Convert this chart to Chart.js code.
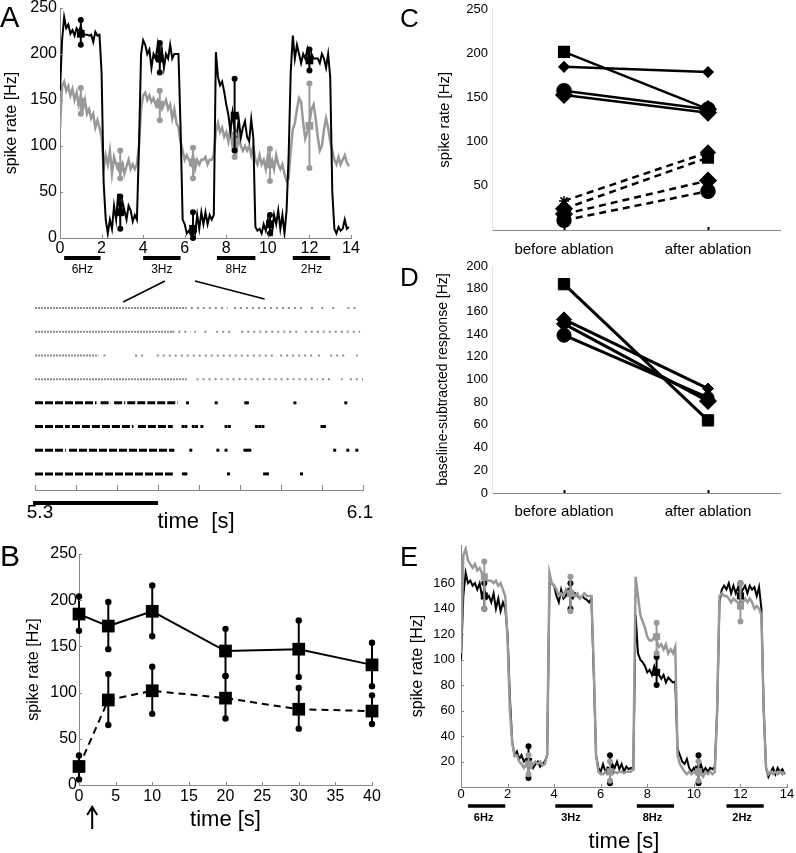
<!DOCTYPE html>
<html>
<head>
<meta charset="utf-8">
<script src="https://cdn.jsdelivr.net/npm/chart.js@4.4.1/dist/chart.umd.min.js"></script>
<style>
  body { margin: 0; background: #fff; }
  #wrap { position: relative; width: 796px; height: 853px; overflow: hidden; font-family: "Liberation Sans", Arial, sans-serif; }
  canvas { position: absolute; }
  .letter { position: absolute; line-height: 1; color: #000; }
</style>
</head>
<body>
<div id="wrap">
  <canvas id="cA" width="362" height="290" style="left:0px;top:0px"></canvas>
  <canvas id="cR" width="380" height="262" style="left:0px;top:276px"></canvas>
  <canvas id="cB" width="385" height="308" style="left:0px;top:545px"></canvas>
  <canvas id="cC" width="396" height="262" style="left:400px;top:0px"></canvas>
  <canvas id="cD" width="396" height="280" style="left:400px;top:250px"></canvas>
  <canvas id="cE" width="396" height="313" style="left:400px;top:540px"></canvas>
  <div class="letter" style="left:0px;top:3px;font-size:29px">A</div>
  <div class="letter" style="left:0px;top:541px;font-size:30px">B</div>
  <div class="letter" style="left:400px;top:5px;font-size:26px">C</div>
  <div class="letter" style="left:400px;top:264px;font-size:26px">D</div>
  <div class="letter" style="left:400px;top:544px;font-size:27px">E</div>
</div>
<script>
// ---- data ----
const timeBins = [
  0.0, 0.1, 0.2, 0.3, 0.4, 0.5, 0.6, 0.7, 0.8, 0.9,
  1.0, 1.1, 1.2, 1.3, 1.4, 1.5, 1.6, 1.7, 1.8, 1.9,
  2.0, 2.1, 2.2, 2.3, 2.4, 2.5, 2.6, 2.7, 2.8, 2.9,
  3.0, 3.1, 3.2, 3.3, 3.4, 3.5, 3.6, 3.7, 3.8, 3.9,
  4.0, 4.1, 4.2, 4.3, 4.4, 4.5, 4.6, 4.7, 4.8, 4.9,
  5.0, 5.1, 5.2, 5.3, 5.4, 5.5, 5.6, 5.7, 5.8, 5.9,
  6.0, 6.1, 6.2, 6.3, 6.4, 6.5, 6.6, 6.7, 6.8, 6.9,
  7.0, 7.1, 7.2, 7.3, 7.4, 7.5, 7.6, 7.7, 7.8, 7.9,
  8.0, 8.1, 8.2, 8.3, 8.4, 8.5, 8.6, 8.7, 8.8, 8.9,
  9.0, 9.1, 9.2, 9.3, 9.4, 9.5, 9.6, 9.7, 9.8, 9.9,
  10.0, 10.1, 10.2, 10.3, 10.4, 10.5, 10.6, 10.7, 10.8, 10.9,
  11.0, 11.1, 11.2, 11.3, 11.4, 11.5, 11.6, 11.7, 11.8, 11.9,
  12.0, 12.1, 12.2, 12.3, 12.4, 12.5, 12.6, 12.7, 12.8, 12.9,
  13.0, 13.1, 13.2, 13.3, 13.4, 13.5, 13.6, 13.7, 13.8, 13.9
];

// panel A traces
const blackA = [
  160, 215, 240, 228, 232, 222, 226, 220, 228, 224,
  230, 222, 221, 221, 220, 221, 213, 224, 220, 221,
  180, 60, 20, 5, 20, 10, 35, 20, 48, 25,
  40, 30, 20, 35, 30, 18, 25, 20, 100, 200,
  215, 210, 200, 205, 185, 200, 195, 210, 190, 205,
  185, 200, 195, 210, 195, 200, 200, 200, 120, 20,
  15, 5, 8, 3, 12, 5, 25, 10, 28, 15,
  28, 15, 25, 20, 25, 202, 175, 166, 170, 159,
  145, 134, 116, 136, 118, 111, 129, 109, 120, 127,
  110, 105, 129, 109, 12, 8, 10, 5, 15, 8,
  20, 10, 5, 25, 15, 30, 10, 25, 5, 30,
  90, 180, 220, 195, 210, 200, 190, 200, 195, 205,
  190, 200, 195, 195, 195, 190, 200, 195, 185, 200,
  175, 50, 10, 5, 12, 8, 10, 20, 10, 12
];
const grayA = [
  120, 165, 170, 160, 165, 155, 162, 150, 158, 145,
  155, 140, 150, 135, 140, 130, 135, 120, 128, 120,
  110, 75, 90, 80, 95, 70, 88, 80, 75, 70,
  80, 70, 78, 85, 75, 80, 75, 80, 100, 140,
  155, 158, 150, 155, 148, 152, 145, 150, 145, 140,
  145, 150, 140, 145, 130, 140, 125, 120, 105, 95,
  85, 90, 85, 80, 90, 75, 85, 80, 85, 85,
  88, 80, 85, 85, 90, 115, 125, 115, 120, 110,
  115, 105, 120, 100, 110, 95, 110, 100, 95, 100,
  95, 100, 90, 100, 85, 80, 90, 80, 85, 75,
  90, 80, 85, 75, 90, 80, 75, 80, 70, 62,
  65, 95, 118, 125, 140, 152, 148, 125, 108, 115,
  125, 140, 145, 130, 110, 95, 100, 118, 130, 120,
  105, 95, 85, 80, 88, 80, 85, 90, 82, 78
];
const errTimesA = [1.0, 2.9, 4.8, 6.4, 8.4, 10.1, 12.0];
const blackMeanA = [222, 28, 195, 10, 133, 15, 193];
const blackLoA = [210, 10, 180, 0, 95, 5, 182];
const blackHiA = [237, 45, 212, 28, 173, 25, 205];
const grayMeanA = [148, 78, 145, 82, 105, 80, 122];
const grayLoA = [135, 65, 128, 65, 88, 62, 76];
const grayHiA = [163, 95, 160, 98, 113, 97, 168];
const stimLabels = ['6Hz', '3Hz', '8Hz', '2Hz'];
const stimStartA = [0.2, 4.0, 7.55, 11.2];
const stimEndA = [1.95, 5.8, 9.4, 13.0];

// raster (zoom of 5.3 - 6.1 s), rows 1-4 gray, 5-8 black
const rasterRows = [1, 2, 3, 4, 5, 6, 7, 8];
const grayDense = [
  [[5.30, 5.67]],
  [[5.30, 5.635]],
  [[5.30, 5.455]],
  [[5.30, 5.67]]
];
const graySparse = [
  [[5.68, 5.77], [5.785, 5.96], [5.973, 5.978], [5.998, 6.003], [6.025, 6.037], [6.062, 6.086]],
  [[5.635, 5.68], [5.688, 5.692], [5.713, 5.724], [5.742, 5.777], [5.803, 5.94], [5.958, 6.093]],
  [[5.467, 5.478], [5.544, 5.572], [5.597, 5.88], [5.898, 5.98], [5.99, 6.0], [6.02, 6.063], [6.083, 6.087]],
  [[5.694, 5.99], [6.0, 6.02], [6.046, 6.05], [6.068, 6.1]]
];
const blackBursts = [
  [[5.30, 5.45], [5.46, 5.485], [5.493, 5.52], [5.525, 5.648]],
  [[5.30, 5.385], [5.39, 5.54], [5.551, 5.636]],
  [[5.30, 5.375], [5.383, 5.64]],
  [[5.30, 5.636]]
];
const blackSpikes = [
  [5.672, 5.742, 5.814, 5.818, 5.934, 6.058],
  [5.661, 5.668, 5.686, 5.694, 5.707, 5.766, 5.774, 5.84, 5.848, 5.856, 6.0, 6.006],
  [5.68, 5.746, 5.766, 5.812, 5.818, 5.824, 6.031, 6.063, 6.085],
  [5.662, 5.668, 5.772, 5.86, 5.867, 5.95]
];
const rasterRange = [5.3, 6.1];
const scaleBar = [5.3, 5.6];
const zoomFromA = [5.05, 6.49];
const zoomToRaster = [5.515, 5.86];

// panel B
const timeB = [0, 4, 10, 20, 30, 40];
const stimRateB = [185, 172, 188, 145, 147, 130];
const stimLoB = [167, 147, 161, 118, 117, 107];
const stimHiB = [204, 198, 216, 169, 178, 154];
const baseRateB = [20, 92, 102, 94, 82, 80];
const baseLoB = [6, 65, 77, 72, 61, 66];
const baseHiB = [32, 120, 128, 118, 105, 97];
const arrowAt = [1.8];

// panels C and D
const catLabels = ['before ablation', 'after ablation'];
const cBefore = [202, 185, 158, 153, 33, 24, 18, 11];
const cAfter = [137, 179, 137, 133, 88, 82, 56, 44];
const dBefore = [184, 153, 149, 139];
const dAfter = [64, 92, 81, 84];

// panel E traces
const blackE = [
  100, 150, 168, 160, 162, 158, 160, 155, 160, 150,
  155, 148, 150, 145, 152, 140, 148, 138, 145, 140,
  120, 70, 35, 25, 28, 22, 25, 20, 22, 18,
  20, 15, 18, 20, 16, 18, 20, 25, 160, 160,
  158, 150, 145, 155, 148, 150, 155, 150, 148, 152,
  150, 148, 150, 148, 147, 145, 148, 90, 25, 15,
  12, 18, 12, 15, 12, 18, 15, 20, 14, 18,
  12, 16, 14, 15, 14, 135, 105, 100, 98, 95,
  90, 92, 88, 95, 90, 88, 85, 88, 82, 86,
  84, 82, 83, 30, 25, 20, 18, 22, 15, 12,
  15, 12, 15, 18, 12, 15, 12, 15, 14, 16,
  60, 145, 155, 158, 155, 160, 152, 158, 152, 157,
  150, 155, 158, 152, 158, 155, 157, 150, 157, 140,
  60, 15, 8, 12, 15, 10, 15, 12, 14, 10
];
const grayE = [
  105, 182, 187, 178, 175, 172, 175, 170, 172, 168,
  165, 162, 162, 162, 160, 162, 158, 160, 155, 150,
  115, 60, 35, 25, 25, 20, 18, 15, 18, 16,
  15, 18, 20, 18, 20, 17, 18, 25, 168, 160,
  158, 155, 150, 152, 150, 155, 152, 150, 152, 150,
  152, 148, 150, 152, 150, 150, 150, 95, 25, 12,
  10, 10, 12, 10, 12, 10, 12, 11, 12, 12,
  11, 12, 12, 12, 15, 165, 150, 135, 130, 125,
  118, 115, 115, 118, 115, 110, 112, 108, 112, 105,
  108, 105, 110, 25, 18, 15, 12, 10, 12, 10,
  12, 10, 12, 10, 8, 12, 10, 12, 10, 12,
  60, 150, 152, 150, 150, 148, 145, 148, 146, 145,
  142, 145, 148, 145, 148, 145, 140, 142, 140, 135,
  60, 15, 10, 12, 10, 12, 10, 12, 10, 12
];
const errTimesE = [1.0, 2.9, 4.7, 6.4, 8.4, 10.2, 12.0];
const blackMeanE = [150, 20, 152, 13, 90, 14, 150];
const blackLoE = [140, 7, 140, 3, 80, 3, 142];
const blackHiE = [160, 32, 160, 25, 102, 25, 160];
const grayMeanE = [165, 18, 152, 12, 118, 12, 142];
const grayLoE = [140, 10, 138, 5, 105, 5, 130];
const grayHiE = [177, 25, 165, 20, 129, 20, 160];
const stimStartE = [0.3, 4.05, 7.55, 11.4];
const stimEndE = [1.9, 5.65, 9.15, 13.0];

// ---- defaults & helpers ----
Chart.defaults.font.family = '"Liberation Sans", Arial, sans-serif';
Chart.defaults.color = '#000';
Chart.defaults.animation = false;
Chart.defaults.events = [];
Chart.defaults.plugins.legend.display = false;
Chart.defaults.plugins.tooltip.enabled = false;

const FONT = '"Liberation Sans", Arial, sans-serif';
const NARROW = '"Liberation Sans Narrow", "Liberation Sans", Arial, sans-serif';
const GRAY = '#999999';
const NOGRID = { display: false, drawTicks: false };

function fixW(w) { return s => { s.width = w; s.paddingTop = 0; s.paddingBottom = 0; }; }
function fixH(h) { return s => { s.height = h; s.paddingLeft = 0; s.paddingRight = 0; }; }
function pts(xs, ys) { return xs.map((x, i) => ({ x: x, y: ys[i] })); }

// inward tick marks (matlab style)
const inTicks = {
  id: 'inTicks',
  afterDatasetsDraw(chart, args, opts) {
    const { ctx, chartArea: a } = chart;
    ctx.save();
    ctx.strokeStyle = opts.color || '#777';
    ctx.lineWidth = opts.width || 1;
    (opts.axes || []).forEach(id => {
      const s = chart.scales[id];
      s.ticks.forEach((t, i) => {
        if (opts.skip && opts.skip.includes(t.value)) return;
        const p = Math.round(s.getPixelForTick(i)) + 0.5;
        ctx.beginPath();
        if (s.isHorizontal()) { ctx.moveTo(p, a.bottom); ctx.lineTo(p, a.bottom - opts.len); }
        else { ctx.moveTo(a.left, p); ctx.lineTo(a.left + opts.len, p); }
        ctx.stroke();
      });
    });
    ctx.restore();
  }
};

// error bars with dot caps, drawn right after their dataset
const errorBars = {
  id: 'errorBars',
  afterDatasetDraw(chart, args) {
    const ds = chart.data.datasets[args.index];
    if (!ds.errLo) return;
    const { ctx, scales: { x, y } } = chart;
    ctx.save();
    ctx.strokeStyle = ds.errColor;
    ctx.fillStyle = ds.errColor;
    ctx.lineWidth = ds.errWidth || 2;
    ds.data.forEach((p, i) => {
      const px = x.getPixelForValue(p.x);
      const lo = y.getPixelForValue(ds.errLo[i]);
      const hi = y.getPixelForValue(ds.errHi[i]);
      ctx.beginPath(); ctx.moveTo(px, lo); ctx.lineTo(px, hi); ctx.stroke();
      [lo, hi].forEach(py => { ctx.beginPath(); ctx.arc(px, py, ds.errDot || 3, 0, Math.PI * 2); ctx.fill(); });
    });
    ctx.restore();
  }
};

// stimulus bars under the time axis
const stimBars = {
  id: 'stimBars',
  afterDraw(chart, args, o) {
    if (!o.starts) return;
    const { ctx, chartArea: a, scales: { x } } = chart;
    ctx.save();
    ctx.fillStyle = '#000';
    ctx.font = o.font;
    ctx.textAlign = 'center';
    ctx.textBaseline = 'middle';
    o.starts.forEach((s, i) => {
      const x0 = x.getPixelForValue(s), x1 = x.getPixelForValue(o.ends[i]);
      ctx.fillRect(x0, a.bottom + o.barOff - o.barW / 2, x1 - x0, o.barW);
      ctx.fillText(o.labels[i], (x0 + x1) / 2 - o.shift, a.bottom + o.labelOff);
    });
    ctx.restore();
  }
};

// ---- panel A ----
const chartA = new Chart(document.getElementById('cA'), {
  type: 'line',
  data: {
    datasets: [
      { data: pts(errTimesA, blackMeanA), showLine: false, pointStyle: 'rect', pointRadius: 5.5,
        backgroundColor: '#000', borderWidth: 0, errLo: blackLoA, errHi: blackHiA, errColor: '#000' },
      { data: pts(errTimesA, grayMeanA), showLine: false, pointStyle: 'rect', pointRadius: 5.5,
        backgroundColor: GRAY, borderWidth: 0, errLo: grayLoA, errHi: grayHiA, errColor: GRAY },
      { data: pts(timeBins, blackA), borderColor: '#000', borderWidth: 2, pointRadius: 0, tension: 0 },
      { data: pts(timeBins, grayA), borderColor: GRAY, borderWidth: 2.5, pointRadius: 0, tension: 0 }
    ]
  },
  options: {
    responsive: false,
    layout: { padding: { top: 8, right: 11, left: 0, bottom: 0 } },
    scales: {
      x: {
        type: 'linear', min: 0, max: 14,
        ticks: { stepSize: 2, font: { size: 16 }, padding: 1, maxRotation: 0, autoSkip: false },
        grid: NOGRID, border: { color: '#888' },
        afterFit: fixH(52)
      },
      y: {
        min: 0, max: 250,
        ticks: { stepSize: 50, font: { size: 16 }, padding: 3 },
        grid: NOGRID, border: { color: '#888' },
        title: { display: true, text: 'spike rate [Hz]', font: { size: 16, lineHeight: 1 }, padding: { top: 4, bottom: 0 } },
        afterFit: fixW(60)
      }
    },
    plugins: {
      inTicks: { axes: ['x', 'y'], len: 3, color: '#888' },
      stimBars: { starts: stimStartA, ends: stimEndA, labels: stimLabels, barOff: 20, barW: 4,
                  labelOff: 32, shift: 0, font: '12px ' + NARROW }
    }
  },
  plugins: [inTicks, errorBars, stimBars]
});

// ---- raster ----
function segData(rows, offset) {
  const out = [];
  rows.forEach((segs, r) => {
    segs.forEach(s => {
      out.push({ x: s[0], y: rasterRows[r + offset] });
      out.push({ x: s[1], y: rasterRows[r + offset] });
      out.push({ x: s[1], y: null });
    });
  });
  return out;
}
function spikeData(rows, offset) {
  const out = [];
  rows.forEach((ts, r) => ts.forEach(t => out.push({ x: t, y: rasterRows[r + offset] })));
  return out;
}

new Chart(document.getElementById('cR'), {
  type: 'line',
  data: {
    datasets: [
      { data: segData(grayDense, 0), borderColor: '#8c8c8c', borderWidth: 2, borderDash: [2, 1],
        pointRadius: 0, spanGaps: false, borderCapStyle: 'butt' },
      { data: segData(graySparse, 0), borderColor: '#8c8c8c', borderWidth: 2, borderDash: [2, 4],
        pointRadius: 0, spanGaps: false, borderCapStyle: 'butt' },
      { data: segData(blackBursts, 4), borderColor: '#000', borderWidth: 3, borderDash: [8, 2],
        pointRadius: 0, spanGaps: false, borderCapStyle: 'butt' },
      { data: spikeData(blackSpikes, 4), showLine: false, pointStyle: 'rect', pointRadius: 2.1,
        backgroundColor: '#000', borderWidth: 0 }
    ]
  },
  options: {
    responsive: false,
    layout: { padding: { top: 24, right: 17, left: 35, bottom: 0 } },
    scales: {
      x: {
        type: 'linear', min: rasterRange[0], max: rasterRange[1],
        ticks: { stepSize: 0.1, color: 'rgba(0,0,0,0)', font: { size: 10 }, maxRotation: 0, autoSkip: false },
        grid: NOGRID, border: { color: '#888' },
        afterFit: fixH(48)
      },
      y: { display: false, min: 0.66, max: 8.68, reverse: true }
    },
    plugins: { inTicks: { axes: ['x'], len: 5, color: '#888' } }
  },
  plugins: [inTicks, {
    id: 'rasterDeco',
    afterDraw(chart) {
      const { ctx, chartArea: a, scales: { x } } = chart;
      ctx.save();
      ctx.fillStyle = '#000';
      const b0 = x.getPixelForValue(scaleBar[0]), b1 = x.getPixelForValue(scaleBar[1]);
      ctx.fillRect(b0 - 2, a.bottom + 11, b1 - b0 + 2, 4);
      ctx.textBaseline = 'middle';
      ctx.font = '19px ' + FONT;
      ctx.textAlign = 'center';
      ctx.fillText(rasterRange[0].toFixed(1), x.getPixelForValue(rasterRange[0]) + 5, a.bottom + 23);
      ctx.fillText(rasterRange[1].toFixed(1), x.getPixelForValue(rasterRange[1]) - 3, a.bottom + 23);
      ctx.font = '22px ' + FONT;
      ctx.fillText('time  [s]', (a.left + a.right) / 2 - 3, a.bottom + 32);
      // zoom lines from panel A
      const ax = chartA.scales.x;
      const topY = 5;
      ctx.strokeStyle = '#000';
      ctx.lineWidth = 1.5;
      ctx.beginPath();
      ctx.moveTo(ax.getPixelForValue(zoomFromA[0]), topY);
      ctx.lineTo(x.getPixelForValue(zoomToRaster[0]), topY + 21);
      ctx.moveTo(ax.getPixelForValue(zoomFromA[1]), topY);
      ctx.lineTo(x.getPixelForValue(zoomToRaster[1]), topY + 18);
      ctx.stroke();
      ctx.restore();
    }
  }]
});

// ---- panel B ----
new Chart(document.getElementById('cB'), {
  type: 'line',
  data: {
    datasets: [
      { data: pts(timeB, stimRateB), borderColor: '#000', borderWidth: 2, pointStyle: 'rect', pointRadius: 9,
        pointBackgroundColor: '#000', pointBorderWidth: 0, clip: false,
        errLo: stimLoB, errHi: stimHiB, errColor: '#000', errDot: 3.2 },
      { data: pts(timeB, baseRateB), borderColor: '#000', borderWidth: 2, borderDash: [7, 5], pointStyle: 'rect',
        pointRadius: 9, pointBackgroundColor: '#000', pointBorderWidth: 0, clip: false,
        errLo: baseLoB, errHi: baseHiB, errColor: '#000', errDot: 3.2 }
    ]
  },
  options: {
    responsive: false,
    layout: { padding: { top: 9, right: 13, left: 0, bottom: 0 } },
    scales: {
      x: {
        type: 'linear', min: 0, max: 40,
        ticks: { stepSize: 5, font: { size: 16 }, padding: 2, maxRotation: 0, autoSkip: false },
        grid: NOGRID, border: { color: '#888' },
        title: { display: true, text: 'time [s]', font: { size: 22, lineHeight: 1 }, padding: { top: 0, bottom: 22 } },
        afterFit: fixH(68)
      },
      y: {
        min: 0, max: 250,
        ticks: { stepSize: 50, font: { size: 16 }, padding: 2 },
        grid: NOGRID, border: { color: '#888' },
        title: { display: true, text: 'spike rate [Hz]', font: { size: 16, lineHeight: 1 }, padding: { top: 26, bottom: 0 } },
        afterFit: fixW(79)
      }
    },
    plugins: { inTicks: { axes: ['x', 'y'], len: 3, color: '#888' } }
  },
  plugins: [inTicks, errorBars, {
    id: 'arrow',
    afterDraw(chart) {
      const { ctx, chartArea: a, scales: { x } } = chart;
      const px = x.getPixelForValue(arrowAt[0]);
      const top = a.bottom + 22, bot = a.bottom + 44;
      ctx.save();
      ctx.strokeStyle = '#000';
      ctx.lineWidth = 2;
      ctx.beginPath();
      ctx.moveTo(px, bot); ctx.lineTo(px, top + 1);
      ctx.moveTo(px - 5, top + 8); ctx.lineTo(px, top); ctx.lineTo(px + 5, top + 8);
      ctx.stroke();
      ctx.restore();
    }
  }]
});

// ---- panel C ----
const cShapeBefore = ['rect', 'rectRot', 'circle', 'rectRot', 'star', 'rectRot', 'rectRot', 'circle'];
const cShapeAfter = ['circle', 'rectRot', 'rectRot', 'rectRot', 'rectRot', 'rect', 'rectRot', 'circle'];
const cSizeBefore = [7.5, 5, 7, 8, 5, 8, 8, 7];
const cSizeAfter = [7, 5, 8, 8, 7, 7.5, 8, 7];
const cDashed = [false, false, false, false, true, true, true, true];

new Chart(document.getElementById('cC'), {
  type: 'line',
  data: {
    labels: catLabels,
    datasets: cBefore.map((b, i) => ({
      data: [b, cAfter[i]],
      borderColor: '#000', backgroundColor: '#000', borderWidth: 2.5,
      borderDash: cDashed[i] ? [7, 5] : [],
      pointStyle: [cShapeBefore[i], cShapeAfter[i]],
      pointRadius: [cSizeBefore[i], cSizeAfter[i]],
      pointBorderColor: '#000', pointBackgroundColor: '#000', pointBorderWidth: 1.5,
      clip: false
    }))
  },
  options: {
    responsive: false,
    layout: { padding: { top: 6, right: 16, left: 0, bottom: 0 } },
    scales: {
      x: {
        type: 'category', offset: true,
        ticks: { font: { size: 15 }, padding: 11, maxRotation: 0 },
        grid: NOGRID, border: { color: '#888' },
        afterFit: fixH(32)
      },
      y: {
        min: 0, max: 250,
        ticks: { stepSize: 50, font: { size: 13 }, padding: 4, callback: v => (v === 0 ? '' : v) },
        grid: NOGRID, border: { color: '#e4e4e4' },
        title: { display: true, text: 'spike rate [Hz]', font: { size: 15, lineHeight: 1 }, padding: { top: 37, bottom: 0 } },
        afterFit: fixW(92)
      }
    },
    plugins: { inTicks: { axes: ['x'], len: 3, color: '#000', width: 2 } }
  },
  plugins: [inTicks]
});

// ---- panel D ----
const dShapeBefore = ['rect', 'rectRot', 'rectRot', 'circle'];
const dShapeAfter = ['rect', 'rectRot', 'rectRot', 'circle'];
const dSizeBefore = [8, 7.5, 7.5, 7];
const dSizeAfter = [8, 5.5, 8.5, 6];

new Chart(document.getElementById('cD'), {
  type: 'line',
  data: {
    labels: catLabels,
    datasets: dBefore.map((b, i) => ({
      data: [b, dAfter[i]],
      borderColor: '#000', backgroundColor: '#000', borderWidth: 3,
      pointStyle: [dShapeBefore[i], dShapeAfter[i]],
      pointRadius: [dSizeBefore[i], dSizeAfter[i]],
      pointBorderColor: '#000', pointBackgroundColor: '#000', pointBorderWidth: 1,
      clip: false
    }))
  },
  options: {
    responsive: false,
    layout: { padding: { top: 16, right: 16, left: 0, bottom: 0 } },
    scales: {
      x: {
        type: 'category', offset: true,
        ticks: { font: { size: 15 }, padding: 10, maxRotation: 0 },
        grid: NOGRID, border: { color: '#888' },
        afterFit: fixH(37)
      },
      y: {
        min: 0, max: 200,
        ticks: { stepSize: 20, font: { size: 13 }, padding: 4 },
        grid: NOGRID, border: { color: '#e4e4e4' },
        title: { display: true, text: 'baseline-subtracted response [Hz]', font: { size: 14, lineHeight: 1 }, padding: { top: 36, bottom: 0 } },
        afterFit: fixW(92)
      }
    },
    plugins: { inTicks: { axes: ['x'], len: 3, color: '#000', width: 2 } }
  },
  plugins: [inTicks]
});

// ---- panel E ----
new Chart(document.getElementById('cE'), {
  type: 'line',
  data: {
    datasets: [
      { data: pts(errTimesE, grayMeanE), showLine: false, pointStyle: 'rect', pointRadius: 5,
        backgroundColor: GRAY, borderWidth: 0, errLo: grayLoE, errHi: grayHiE, errColor: GRAY },
      { data: pts(errTimesE, blackMeanE), showLine: false, pointStyle: 'rect', pointRadius: 5,
        backgroundColor: '#000', borderWidth: 0, errLo: blackLoE, errHi: blackHiE, errColor: '#000' },
      { data: pts(timeBins, grayE), borderColor: GRAY, borderWidth: 2.5, pointRadius: 0, tension: 0 },
      { data: pts(timeBins, blackE), borderColor: '#000', borderWidth: 2, pointRadius: 0, tension: 0 }
    ]
  },
  options: {
    responsive: false,
    layout: { padding: { top: 2, right: 9, left: 0, bottom: 0 } },
    scales: {
      x: {
        type: 'linear', min: 0, max: 14,
        ticks: { stepSize: 2, font: { size: 13 }, padding: 0, maxRotation: 0, autoSkip: false },
        grid: NOGRID, border: { color: '#888' },
        title: { display: true, text: 'time [s]', font: { size: 22, lineHeight: 1 }, padding: { top: 0, bottom: 0 } },
        afterFit: fixH(66)
      },
      y: {
        min: 0, max: 190,
        ticks: { stepSize: 20, font: { size: 13 }, padding: 6, callback: v => (v === 0 || v === 190 ? '' : v) },
        grid: NOGRID, border: { color: '#888' },
        title: { display: true, text: 'spike rate [Hz]', font: { size: 16, lineHeight: 1 }, padding: { top: 10, bottom: 0 } },
        afterFit: fixW(61)
      }
    },
    plugins: {
      inTicks: { axes: ['x', 'y'], len: 3, color: '#888', skip: [190] },
      stimBars: { starts: stimStartE, ends: stimEndE, labels: stimLabels, barOff: 19, barW: 3.5,
                  labelOff: 31, shift: 3, font: 'bold 11px ' + NARROW }
    }
  },
  plugins: [inTicks, errorBars, stimBars]
});
</script>
</body>
</html>
